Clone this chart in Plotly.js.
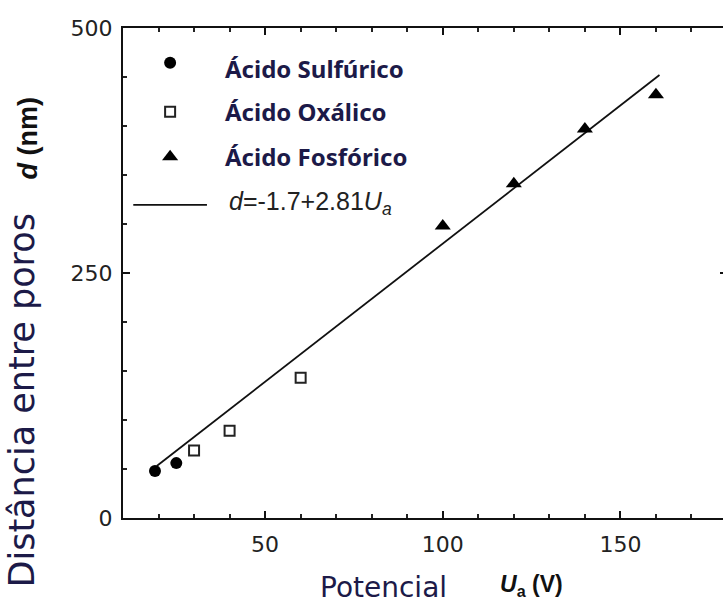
<!DOCTYPE html>
<html>
<head>
<meta charset="utf-8">
<script src="https://cdn.plot.ly/plotly-3.0.1.min.js"></script>
<style>
html,body{margin:0;padding:0;background:#fff;overflow:hidden;width:723px;height:613px;}
#chart{width:727px;height:613px;}
</style>
</head>
<body>
<div id="chart"></div>
<script>
// Data
const sulfX = [19, 25];
const sulfY = [48, 56];
const oxalX = [30, 40, 60];
const oxalY = [69, 89, 143];
const phosX = [100, 120, 140, 160];
const phosY = [298, 341, 397, 432];
const fitX = [19.5, 161];
const fitY = [53, 452];
const xTickVals = [50, 100, 150];
const yTickVals = [0, 250, 500];
const legendNames = ["Ácido Sulfúrico", "Ácido Oxálico", "Ácido Fosfórico"];
const fitLabel = "<i>d</i>=-1.7+2.81<i>U</i><sub><i>a</i></sub>";

const navy = "#1c1a48";
const traces = [
  {x: fitX, y: fitY, mode: "lines", line: {color: "#111", width: 1.8}, showlegend: false, hoverinfo: "skip"},
  {x: sulfX, y: sulfY, mode: "markers", marker: {symbol: "circle", size: 12, color: "#000"}, showlegend: false},
  {x: oxalX, y: oxalY, mode: "markers", marker: {symbol: "square-open", size: 10, color: "#222", line: {width: 2}}, showlegend: false},
  {x: phosX, y: phosY, mode: "markers", marker: {symbol: "triangle-up", size: 14, color: "#000"}, showlegend: false},
  // legend symbols on a hidden overlay axis (paper-like 0..1)
  {x: [0.078], y: [0.929], xaxis: "x2", yaxis: "y2", mode: "markers", marker: {symbol: "circle", size: 12, color: "#000"}, showlegend: false},
  {x: [0.078], y: [0.829], xaxis: "x2", yaxis: "y2", mode: "markers", marker: {symbol: "square-open", size: 10, color: "#222", line: {width: 2}}, showlegend: false},
  {x: [0.078], y: [0.737], xaxis: "x2", yaxis: "y2", mode: "markers", marker: {symbol: "triangle-up", size: 14, color: "#000"}, showlegend: false},
  {x: [0.017, 0.139], y: [0.639, 0.639], xaxis: "x2", yaxis: "y2", mode: "lines", line: {color: "#111", width: 1.8}, showlegend: false}
];

const tickFont = {family: "DejaVu Sans", size: 22, color: "#222"};
const legFont = {family: "Noto Sans", size: 24, color: navy, weight: "bold"};

const layout = {
  width: 727, height: 613,
  margin: {l: 123, r: 0, t: 28, b: 95},
  paper_bgcolor: "#fff", plot_bgcolor: "#fff",
  showlegend: false,
  xaxis: {
    range: [10, 180], tickvals: xTickVals, ticktext: xTickVals.map(String),
    ticks: "inside", ticklen: 7, tickwidth: 2, tickcolor: "#111",
    minor: {dtick: 10, tick0: 0, ticks: "inside", ticklen: 4, tickwidth: 2, tickcolor: "#222"},
    showline: true, linecolor: "#111", linewidth: 2, mirror: "ticks",
    showgrid: false, zeroline: false, tickfont: tickFont, ticklabelstandoff: 6
  },
  yaxis: {
    range: [0, 500], tickvals: yTickVals, ticktext: yTickVals.map(String),
    ticks: "inside", ticklen: 7, tickwidth: 2, tickcolor: "#111",
    minor: {dtick: 50, tick0: 0, ticks: "inside", ticklen: 4, tickwidth: 2, tickcolor: "#222"},
    showline: true, linecolor: "#111", linewidth: 2, mirror: "ticks",
    showgrid: false, zeroline: false, tickfont: tickFont, ticklabelstandoff: 4
  },
  xaxis2: {overlaying: "x", range: [0, 1], visible: false, fixedrange: true},
  yaxis2: {overlaying: "y", range: [0, 1], visible: false, fixedrange: true},
  annotations: [
    {xref: "paper", yref: "paper", x: 0.166, y: 0.918, xanchor: "left", yanchor: "middle", text: legendNames[0], showarrow: false, font: legFont},
    {xref: "paper", yref: "paper", x: 0.166, y: 0.829, xanchor: "left", yanchor: "middle", text: legendNames[1], showarrow: false, font: legFont},
    {xref: "paper", yref: "paper", x: 0.166, y: 0.737, xanchor: "left", yanchor: "middle", text: legendNames[2], showarrow: false, font: legFont},
    {xref: "paper", yref: "paper", x: 0.172, y: 0.643, xanchor: "left", yanchor: "middle", text: fitLabel, showarrow: false, font: {family: "Liberation Sans", size: 25, color: "#222"}},
    // axis titles
    {xref: "paper", yref: "paper", x: 0.432, y: -0.141, xanchor: "center", yanchor: "middle", text: "Potencial", showarrow: false, font: {family: "DejaVu Sans", size: 28, color: navy}},
    {xref: "paper", yref: "paper", x: 0.676, y: -0.137, xanchor: "center", yanchor: "middle", text: "<i>U</i><sub>a</sub> (V)", showarrow: false, font: {family: "Liberation Sans", size: 23, color: "#111", weight: "bold"}},
    {xref: "paper", yref: "paper", x: -0.167, y: 0.24, xanchor: "center", yanchor: "middle", textangle: -90, text: "Distância entre poros", showarrow: false, font: {family: "DejaVu Sans", size: 35, color: navy}},
    {xref: "paper", yref: "paper", x: -0.157, y: 0.775, xanchor: "center", yanchor: "middle", textangle: -90, text: "<i>d</i> (nm)", showarrow: false, font: {family: "Liberation Sans", size: 27, color: "#111", weight: "bold"}}
  ]
};

Plotly.newPlot("chart", traces, layout, {staticPlot: true, displayModeBar: false});
</script>
</body>
</html>
